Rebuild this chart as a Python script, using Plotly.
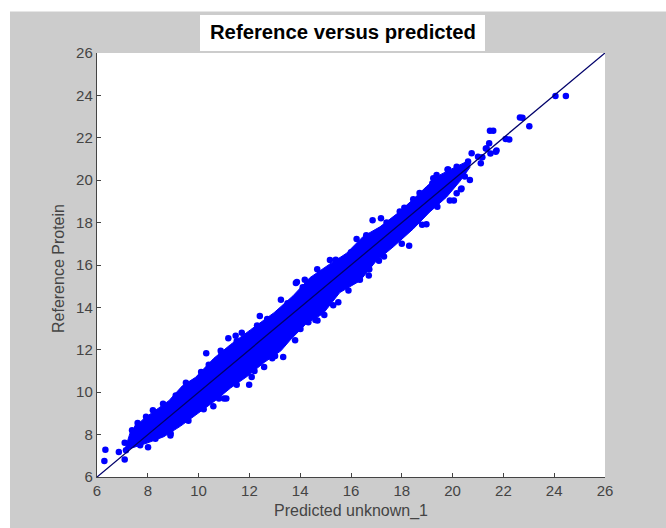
import plotly.graph_objects as go

TITLE = "Reference versus predicted"
X_LABEL = "Predicted unknown_1"
Y_LABEL = "Reference Protein"
TICKS = [6, 8, 10, 12, 14, 16, 18, 20, 22, 24, 26]
LINE_X = [6, 26]
LINE_Y = [6, 26]

# Outline of the solid cloud
upper_x = [7.1, 7.32, 7.84, 8.37, 8.83, 9.36, 9.88, 10.6, 11.26, 12.05, 12.97, 13.72, 14.38, 15.17, 15.82, 16.48, 17.14, 17.79, 18.45, 18.97, 19.5, 20.16, 20.68]
upper_y = [7.3, 8.15, 8.75, 9.2, 9.6, 10.3, 10.7, 11.6, 12.25, 12.95, 13.75, 14.55, 15.4, 16.05, 16.55, 17.35, 17.8, 18.4, 19.1, 19.7, 20.25, 20.65, 20.95]
lower_x = [7.1, 7.32, 7.97, 8.63, 9.29, 9.95, 10.6, 11.26, 11.92, 12.58, 13.24, 13.6, 14.25, 14.9, 15.56, 16.35, 17.0, 17.66, 18.45, 19.1, 19.76, 20.29, 20.68]
lower_y = [7.3, 7.35, 7.6, 7.9, 8.4, 9.0, 9.55, 10.2, 10.75, 11.4, 11.95, 12.45, 13.25, 13.7, 14.7, 15.25, 16.2, 16.85, 17.7, 18.5, 19.2, 19.95, 20.6]

# Individually visible points around the cloud
point_x = [6.29, 6.33, 6.86, 7.09, 7.09, 7.14, 7.58, 7.38, 7.93, 8.01, 8.89, 10.58, 10.3, 11.0, 11.09, 11.99, 12.09, 12.58, 13.33, 13.01, 11.17, 11.46, 11.7, 12.41, 13.24, 13.87, 10.87,
           16.85, 17.18, 16.22, 18.29, 18.97, 13.83, 15.17, 14.67, 14.18, 15.5, 14.95, 14.68, 14.32, 14.01, 16.35, 16.72, 17.1, 19.89, 20.05, 20.33, 20.16, 20.75, 20.68, 20.48, 19.8, 19.24, 19.37, 18.45, 17.92,
           21.47, 21.6, 21.44, 21.73, 21.34, 21.0, 21.11, 20.61, 20.16, 24.05, 24.46, 22.65, 22.75, 23.02, 22.09, 22.23, 21.31, 21.7, 21.49, 21.17, 19.83, 20.35,
           7.6, 8.2, 8.6, 9.1, 9.5, 10.1, 10.4, 10.9, 11.5, 12.3, 12.7, 13.5, 14.1, 14.8, 15.4, 16.0, 16.6, 17.4, 18.1, 18.7, 19.2,
           7.7, 8.3, 8.9, 9.6, 10.2, 10.8, 11.5, 12.2, 12.9, 13.8, 14.6, 15.3, 15.9, 16.7, 17.3, 18.0, 18.8, 19.4]
point_y = [6.76, 7.29, 7.18, 7.61, 6.82, 7.26, 8.32, 8.2, 8.84, 7.4, 7.96, 9.34, 11.84, 9.7, 9.7, 10.35, 10.72, 11.19, 11.66, 11.71, 12.55, 12.66, 12.81, 13.6, 14.36, 15.2, 11.95,
           18.11, 18.2, 17.23, 16.91, 17.92, 15.15, 16.24, 15.8, 15.3, 14.24, 13.64, 13.38, 13.3, 12.98, 15.3, 15.8, 16.2, 19.04, 19.04, 19.57, 19.38, 21.27, 20.01, 20.17, 20.5, 20.09, 20.25, 19.1, 18.52,
           22.33, 22.33, 21.74, 21.4, 21.5, 21.11, 20.8, 20.88, 20.64, 23.97, 23.97, 22.96, 22.95, 22.55, 21.94, 21.92, 21.5, 21.34, 21.26, 21.08, 20.51, 19.61,
           8.55, 9.15, 9.45, 9.85, 10.45, 10.95, 11.3, 11.85, 12.4, 13.15, 13.45, 14.2, 14.95, 15.55, 16.25, 16.6, 17.4, 18.0, 18.7, 19.4, 19.85,
           7.5, 7.8, 8.05, 8.65, 9.2, 9.7, 10.35, 11.0, 11.6, 12.45, 13.4, 14.1, 14.8, 15.5, 16.4, 17.0, 17.9, 18.75]

fig = go.Figure()
fig.add_trace(go.Scatter(
    x=upper_x + lower_x[::-1], y=upper_y + lower_y[::-1],
    mode="lines", fill="toself", fillcolor="#0000ff",
    line=dict(color="#0000ff", width=1), hoverinfo="skip", showlegend=False,
))
fig.add_trace(go.Scatter(
    x=point_x, y=point_y, mode="markers",
    marker=dict(color="#0000ff", size=6.5, line=dict(width=0)), showlegend=False,
))
fig.add_trace(go.Scatter(
    x=LINE_X, y=LINE_Y, mode="lines",
    line=dict(color="#00006a", width=1.3), showlegend=False,
))

axis = dict(
    range=[6, 26], tickmode="array", tickvals=TICKS, ticktext=[str(t) for t in TICKS],
    ticks="inside", ticklen=4, tickwidth=1.2, tickcolor="#444444",
    showgrid=False, zeroline=False, showline=True, linecolor="#444444", linewidth=1.4,
    tickfont=dict(family="Liberation Sans", size=15, color="#444444"), mirror=False,
)
label_font = dict(family="Liberation Sans", size=16, color="#444444")
fig.update_layout(
    width=666, height=528, autosize=False,
    margin=dict(l=97, r=61, t=53, b=51, pad=0),
    paper_bgcolor="#cccccc", plot_bgcolor="#ffffff",
    showlegend=False,
    title=dict(text="<b>" + TITLE + "</b>", x=343 / 666, xanchor="center",
               y=1 - 32 / 528, yanchor="middle",
               font=dict(family="Liberation Sans", size=20.3, color="#000000")),
    xaxis=dict(axis, title=dict(text=X_LABEL, standoff=6, font=label_font)),
    yaxis=dict(axis),
    annotations=[dict(text=Y_LABEL, textangle=-90, showarrow=False, font=label_font,
                      xref="paper", yref="paper", xanchor="center", yanchor="middle",
                      x=(58 - 97) / 508, y=(477 - 269) / 424)],
    shapes=[
        dict(type="rect", xref="paper", yref="paper", layer="below", line_width=0, fillcolor="#ffffff",
             x0=-97 / 508, x1=(666 - 97) / 508, y0=(477 - 11.5) / 424, y1=477 / 424),
        dict(type="rect", xref="paper", yref="paper", layer="below", line_width=0, fillcolor="#ffffff",
             x0=-97 / 508, x1=-87 / 508, y0=-51 / 424, y1=477 / 424),
        dict(type="rect", xref="paper", yref="paper", layer="below", line_width=0, fillcolor="#ffffff",
             x0=(200 - 97) / 508, x1=(485 - 97) / 508, y0=(477 - 51) / 424, y1=(477 - 15) / 424),
    ],
)
fig.write_html("out.html", config={"displayModeBar": False},
               post_script="document.body.style.margin='0';")
